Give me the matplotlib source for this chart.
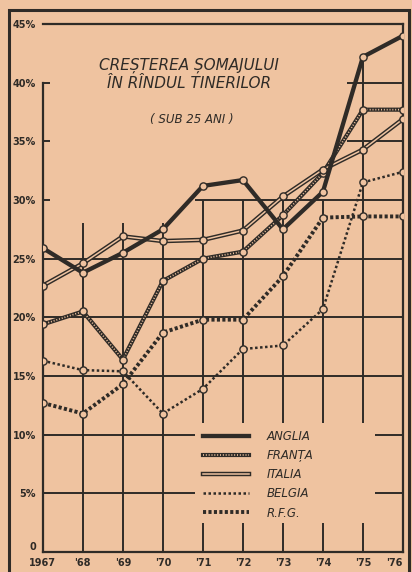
import matplotlib
matplotlib.use('Agg')
from matplotlib import pyplot as plt
from matplotlib.lines import Line2D
from matplotlib.patches import Rectangle

# unemployment among young people (under 25), in %
years = [1967, 1968, 1969, 1970, 1971, 1972, 1973, 1974, 1975, 1976]
year_labels = ['1967', "'68", "'69", "'70", "'71", "'72", "'73", "'74", "'75", "'76"]
anglia = [25.9, 23.8, 25.5, 27.5, 31.2, 31.7, 27.5, 30.7, 42.2, 44.0]
franta = [19.4, 20.5, 16.4, 23.1, 25.0, 25.6, 28.7, 32.3, 37.7, 37.7]
italia = [22.7, 24.6, 26.9, 26.5, 26.6, 27.4, 30.3, 32.6, 34.3, 36.9]
belgia = [16.3, 15.5, 15.4, 11.8, 13.9, 17.3, 17.6, 20.7, 31.5, 32.4]
rfg = [12.7, 11.8, 14.3, 18.7, 19.8, 19.8, 23.5, 28.5, 28.6, 28.6]
y_ticks = [0, 5, 10, 15, 20, 25, 30, 35, 40, 45]
y_labels = ['0', '5%', '10%', '15%', '20%', '25%', '30%', '35%', '40%', '45%']

paper = '#efc3a0'
ink = '#2f2b27'

plt.rcParams['font.family'] = ['DejaVu Sans']

fig = plt.figure(figsize=(4.12, 5.72), dpi=100, facecolor=paper)
ax = fig.add_axes([0.104, 0.035, 0.874, 0.923])
ax.set_facecolor(paper)
ax.set_xlim(1967, 1976)
ax.set_ylim(0, 45)

# the broken grid of the printed chart
grid_kw = dict(color=ink, lw=1.4, zorder=1)
ax.hlines([5, 10, 15, 20, 25], 1967, 1976, **grid_kw)
ax.hlines(30, 1970.8, 1976, **grid_kw)
ax.hlines([35, 40], 1974.6, 1976, **grid_kw)
ax.vlines([1968, 1969, 1970], 0, 28, **grid_kw)
ax.vlines([1971, 1972, 1973, 1974], 0, 30, **grid_kw)
ax.vlines(1975, 0, 42, **grid_kw)
# gap in the grid behind the legend
ax.add_patch(Rectangle((0.422, 0.055), 0.5, 0.19, transform=ax.transAxes,
                       facecolor=paper, edgecolor='none', zorder=2))

mk = dict(marker='o', markersize=5.2, markerfacecolor=paper,
          markeredgecolor=ink, markeredgewidth=1.0)

# ANGLIA: heavy solid line
ax.plot(years, anglia, color=ink, lw=3.1, zorder=5, **mk)
# FRANTA: chain of small rings
ax.plot(years, franta, color=ink, lw=3.0, zorder=4)
ax.plot(years, franta, color=paper, lw=1.2, ls=(0, (0.6, 1.1)), zorder=4, **mk)
# ITALIA: double line
ax.plot(years, italia, color=ink, lw=3.2, zorder=4)
ax.plot(years, italia, color=paper, lw=1.1, zorder=4, **mk)
# BELGIA: fine dots
ax.plot(years, belgia, color=ink, lw=1.8, ls=(0, (1.0, 1.0)), zorder=3, **mk)
# R.F.G.: heavy square dots
ax.plot(years, rfg, color=ink, lw=2.8, ls=(0, (0.8, 0.6)), zorder=3, **mk)

for side in ['top', 'right', 'bottom', 'left']:
    ax.spines[side].set_color(ink)
    ax.spines[side].set_linewidth(1.6)
ax.spines['left'].set_bounds(0, 40)

ax.set_xticks(years)
ax.set_xticklabels(year_labels)
ax.set_yticks(y_ticks)
ax.set_yticklabels(y_labels)
ax.tick_params(axis='x', length=0, pad=4, labelsize=7, colors=ink)
ax.tick_params(axis='y', direction='in', length=5, width=1.4, pad=5,
               labelsize=7, colors=ink)
for lab in ax.get_xticklabels() + ax.get_yticklabels():
    lab.set_fontweight('bold')
ax.get_yticklabels()[0].set_verticalalignment('bottom')
ax.get_xticklabels()[-1].set_horizontalalignment('right')

ax.text(0.405, 0.905, 'CREȘTEREA ȘOMAJULUI\nÎN RÎNDUL TINERILOR',
        transform=ax.transAxes, ha='center', va='center', fontsize=11,
        style='italic', color=ink, linespacing=1.2)
ax.text(0.415, 0.82, '( SUB 25 ANI )', transform=ax.transAxes,
        ha='center', va='center', fontsize=8.5, style='italic', color=ink)

# legend
h_anglia = Line2D([], [], color=ink, lw=3.1)
h_franta = (Line2D([], [], color=ink, lw=3.0),
            Line2D([], [], color=paper, lw=1.2, ls=(0, (0.6, 1.1))))
h_italia = (Line2D([], [], color=ink, lw=3.2),
            Line2D([], [], color=paper, lw=1.1))
h_belgia = Line2D([], [], color=ink, lw=1.8, ls=(0, (1.0, 1.0)))
h_rfg = Line2D([], [], color=ink, lw=2.8, ls=(0, (0.8, 0.6)))
leg = ax.legend([h_anglia, h_franta, h_italia, h_belgia, h_rfg],
                ['ANGLIA', 'FRANȚA', 'ITALIA', 'BELGIA', 'R.F.G.'],
                loc='upper left', bbox_to_anchor=(0.444, 0.231),
                frameon=False, borderpad=0, borderaxespad=0,
                handlelength=3.9, handletextpad=1.5, labelspacing=0.52,
                prop=dict(size=8.5, style='italic'))
for t in leg.get_texts():
    t.set_color(ink)
leg.set_zorder(6)

# outer frame of the newspaper box
fig.add_artist(Rectangle((9 / 412, -0.1), 400 / 412, 1.1 - 10 / 572,
                         transform=fig.transFigure, fill=False,
                         edgecolor=ink, lw=2.2, clip_on=False))

fig.savefig('out.png', dpi=100, facecolor=paper)
